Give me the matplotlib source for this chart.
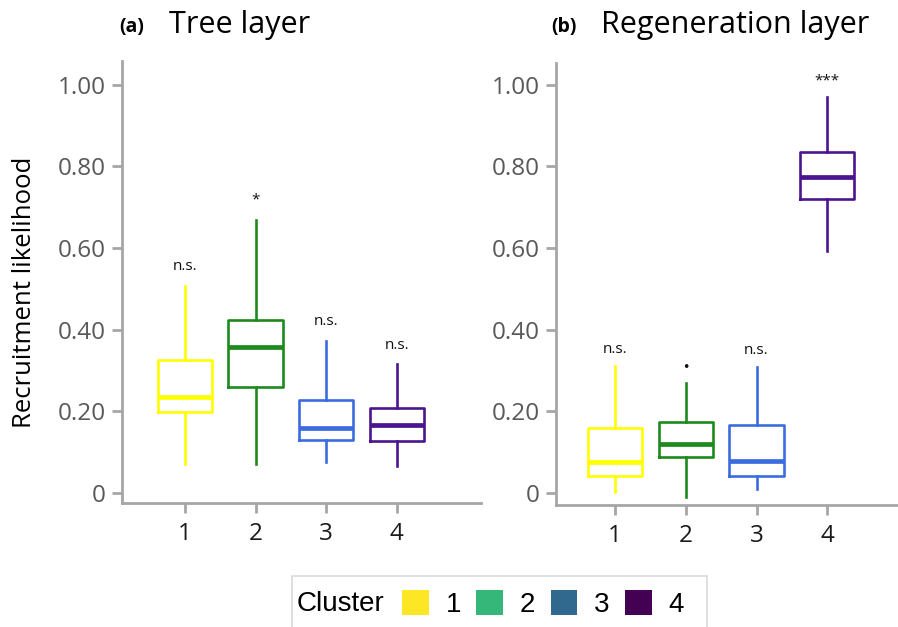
import matplotlib
matplotlib.use("Agg")
import matplotlib.pyplot as plt
from matplotlib.patches import Patch, Rectangle

# ---- data ----
clusters = [1, 2, 3, 4]
box_colors = ["#FFFF00", "#1E8A1E", "#3A6CE0", "#4B1590"]
legend_colors = ["#FDE725", "#35B779", "#31688E", "#440154"]

# tree layer: whisker low, Q1, median, Q3, whisker high
tree_low = [0.071, 0.071, 0.077, 0.066]
tree_q1 = [0.198, 0.259, 0.130, 0.127]
tree_med = [0.235, 0.358, 0.160, 0.167]
tree_q3 = [0.325, 0.423, 0.228, 0.207]
tree_high = [0.507, 0.669, 0.373, 0.316]
tree_sig = ["n.s.", "*", "n.s.", "n.s."]
tree_sig_y = [0.555, 0.717, 0.419, 0.362]

# regeneration layer
regen_low = [0.002, -0.010, 0.009, 0.593]
regen_q1 = [0.043, 0.088, 0.043, 0.720]
regen_med = [0.076, 0.120, 0.079, 0.773]
regen_q3 = [0.160, 0.174, 0.166, 0.834]
regen_high = [0.311, 0.269, 0.308, 0.970]
regen_sig = ["n.s.", "\u2022", "n.s.", "***"]
regen_sig_y = [0.352, 0.308, 0.350, 1.010]

yticks = [0, 0.2, 0.4, 0.6, 0.8, 1.0]
ytick_labels = ["0", "0.20", "0.40", "0.60", "0.80", "1.00"]

FONT = ["Open Sans", "DejaVu Sans"]
GRAY = "#A6A6A6"
W, H = 898, 627


def make_stats(low, q1, med, q3, high):
    return [dict(whislo=a, q1=b, med=c, q3=d, whishi=e, fliers=[])
            for a, b, c, d, e in zip(low, q1, med, q3, high)]


def draw_panel(ax, stats, sig, sig_y, xlim, ylim):
    for i, st in enumerate(stats):
        c = box_colors[i]
        ax.bxp([st], positions=[clusters[i]], widths=0.77, showcaps=False,
               showfliers=False,
               boxprops=dict(color=c, linewidth=1.9),
               whiskerprops=dict(color=c, linewidth=1.9),
               medianprops=dict(color=c, linewidth=3.4, solid_capstyle="butt"))
        if sig[i] == "\u2022":
            ax.text(clusters[i], sig_y[i], sig[i], ha="center", va="center",
                    fontsize=9, family="DejaVu Sans", color="#111111")
        else:
            ax.text(clusters[i], sig_y[i], sig[i], ha="center", va="center",
                    fontsize=11, family=FONT, color="#111111")
    ax.set_xlim(*xlim)
    ax.set_ylim(*ylim)
    ax.set_yticks(yticks)
    ax.set_yticklabels(ytick_labels)
    ax.set_xticks(clusters)
    ax.set_xticklabels([str(c) for c in clusters])
    for s in ["top", "right"]:
        ax.spines[s].set_visible(False)
    for s in ["left", "bottom"]:
        ax.spines[s].set_color(GRAY)
        ax.spines[s].set_linewidth(2.0)
    ax.tick_params(axis="both", color=GRAY, width=2.0, length=7.5)
    ax.tick_params(axis="y", labelcolor="#595959", labelsize=17.5, pad=4)
    ax.tick_params(axis="x", labelcolor="#1a1a1a", labelsize=17.5, pad=6)
    for lab in ax.get_xticklabels() + ax.get_yticklabels():
        lab.set_family(FONT)


fig = plt.figure(figsize=(W / 100, H / 100), dpi=100)

ax1 = fig.add_axes([122 / W, 1 - 503 / H, (481 - 122) / W, (503 - 61) / H])
draw_panel(ax1, make_stats(tree_low, tree_q1, tree_med, tree_q3, tree_high),
           tree_sig, tree_sig_y, (0.11, 5.19), (-0.0245, 1.058))

ax2 = fig.add_axes([556 / W, 1 - 505 / H, (898 - 556) / W, (505 - 63) / H])
draw_panel(ax2, make_stats(regen_low, regen_q1, regen_med, regen_q3, regen_high),
           regen_sig, regen_sig_y, (0.165, 5.0), (-0.029, 1.053))

# titles
fig.text(119 / W, 1 - 27 / H, "(a)", fontsize=14, fontweight="bold",
         family=FONT, ha="left", va="center")
fig.text(169 / W, 1 - 25 / H, "Tree layer", fontsize=22, family=FONT,
         ha="left", va="center")
fig.text(551 / W, 1 - 27 / H, "(b)", fontsize=14, fontweight="bold",
         family=FONT, ha="left", va="center")
fig.text(601 / W, 1 - 25 / H, "Regeneration layer", fontsize=22, family=FONT,
         ha="left", va="center")

fig.text(25 / W, 1 - 292 / H, "Recruitment likelihood", rotation=90,
         fontsize=18.5, family=FONT, ha="center", va="center")

# legend
fig.patches.append(Rectangle((292 / W, -0.01), (707 - 292) / W, 0.01 + 1 - 576 / H,
                             transform=fig.transFigure, facecolor="white",
                             edgecolor="#D9D9D9", linewidth=1.2))
fig.text(297 / W, 1 - 604 / H, "Cluster", fontsize=20,
         family=["Liberation Sans", "DejaVu Sans"], ha="left", va="center")
handles = [Patch(facecolor=c, edgecolor="none") for c in legend_colors]
fig.legend(handles, [str(c) for c in clusters], ncol=4, frameon=False,
           loc="center left", bbox_to_anchor=(388 / W, 1 - 604 / H),
           prop=dict(family=["Liberation Sans", "DejaVu Sans"], size=20),
           handlelength=0.97, handleheight=1.0, handletextpad=0.6,
           columnspacing=0.55, borderpad=0.0)

fig.savefig("out.png", dpi=100)
